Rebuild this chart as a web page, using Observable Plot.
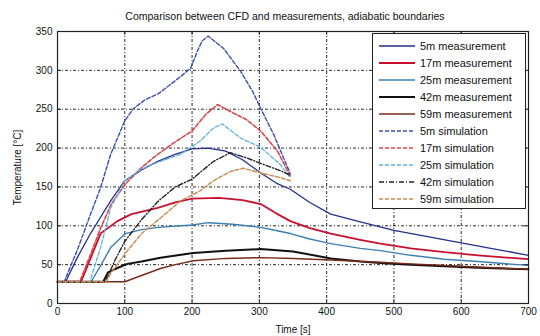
<!DOCTYPE html>
<html><head><meta charset="utf-8">
<script src="https://cdn.jsdelivr.net/npm/d3@7"></script>
<script src="https://cdn.jsdelivr.net/npm/@observablehq/plot@0.6"></script>
<style>
body{margin:0;background:#fff;font-family:"Liberation Sans",Arial,sans-serif;}
#wrap{position:relative;width:540px;height:336px;overflow:hidden;}
#title{position:absolute;left:30px;width:510px;top:10px;font-size:10.5px;text-align:center;color:#111;}
#chart{position:absolute;left:0;top:24px;}
#legend{position:absolute;left:372px;top:33px;width:152px;height:174px;border:1px solid #222;background:#fff;}
.row{position:absolute;left:0;height:14px;font-size:11px;color:#111;white-space:nowrap;}
.row svg{position:absolute;left:5px;top:0;}
.row span{position:absolute;left:47px;top:0;line-height:14px;}
</style></head><body>
<div id="wrap">
<div id="title"></div>
<div id="chart"></div>
<div id="legend"></div>
</div>
<script>
const titleText = "Comparison between CFD and measurements, adiabatic boundaries";
const xLabel = "Time [s]";
const yLabel = "Temperature [°C]";
const xTicks = [0,100,200,300,400,500,600,700];
const yTicks = [0,50,100,150,200,250,300,350];

const seriesNames = ["5m measurement","17m measurement","25m measurement","42m measurement","59m measurement",
  "5m simulation","17m simulation","25m simulation","42m simulation","59m simulation"];

const t5mMeas = [0,12,30,49,64,79,100,125,149,175,200,224,250,275,302,325,346,375,406,450,500,550,600,650,700];
const v5mMeas = [28,28,60,90,111,132,158,172,183,192,199,200,196,185,168,155,147,130,115,105,94,86,78,70,62];
const t17mMeas = [0,35,50,64,89,110,149,175,200,240,275,302,325,346,375,406,450,480,525,575,625,700];
const v17mMeas = [28,28,60,90,106,115,123,130,135,136,133,128,116,106,97,90,82,77,71,66,62,57];
const t25mMeas = [0,50,65,79,101,125,149,200,224,260,302,325,346,375,406,450,480,525,575,625,700];
const v25mMeas = [28,28,50,72,90,95,98,101,104,102,98,94,90,83,77,71,68,62,57,54,49];
const t42mMeas = [0,68,75,90,104,125,153,202,250,302,350,406,450,480,525,575,625,700];
const v42mMeas = [28,28,40,46,51,54,59,65,68,70,67,58,54,52,50,48,46,44];
const t59mMeas = [0,100,125,153,175,202,250,302,350,406,480,525,600,700];
const v59mMeas = [28,28,36,45,50,55,58,59,58,56,53,51,48,44];

const t5mSim = [0,10,30,50,64,79,100,113,130,150,183,198,208,215,224,247,272,290,302,321,346];
const v5mSim = [28,28,70,117,149,192,235,251,262,270,292,303,325,338,344,328,299,273,251,218,167];
const t17mSim = [0,33,50,64,80,101,125,149,175,200,220,238,257,280,302,327,346];
const v17mSim = [28,28,65,97,128,154,175,192,208,222,243,256,247,237,222,196,164];
const t25mSim = [0,48,65,79,100,125,150,183,212,232,245,272,302,331,346];
const v25mSim = [28,28,75,123,158,173,182,192,209,226,231,213,201,179,162];
const t42mSim = [0,70,75,85,100,125,150,175,200,232,257,282,306,331,346];
const v42mSim = [28,28,35,55,80,108,132,150,160,183,194,187,179,171,165];
const t59mSim = [0,72,80,104,125,153,183,212,232,257,276,302,331,346];
const v59mSim = [28,28,40,68,90,110,132,145,158,170,174,168,162,158];

const seriesT = [t5mMeas,t17mMeas,t25mMeas,t42mMeas,t59mMeas,t5mSim,t17mSim,t25mSim,t42mSim,t59mSim];
const seriesV = [v5mMeas,v17mMeas,v25mMeas,v42mMeas,v59mMeas,v5mSim,v17mSim,v25mSim,v42mSim,v59mSim];

const styles = [
  {stroke:"#24308a", w:1.3, dash:null},
  {stroke:"#c8102e", w:1.8, dash:null},
  {stroke:"#3b7fb5", w:1.4, dash:null},
  {stroke:"#111111", w:2.0, dash:null},
  {stroke:"#7a2a1a", w:1.4, dash:null},
  {stroke:"#3c4fb0", w:1.4, dash:"4,2"},
  {stroke:"#d4474a", w:1.6, dash:"4,2"},
  {stroke:"#5fb4dc", w:1.3, dash:"4,2"},
  {stroke:"#222222", w:1.4, dash:"5,2,1,2"},
  {stroke:"#c98a4e", w:1.4, dash:"4,2"}
];

const tables = seriesNames.map((name,i)=> seriesT[i].map((t,j)=>({series:name, t, v:seriesV[i][j]})));

document.getElementById("title").textContent = titleText;

const lineMarks = tables.map((tab,i)=> Plot.line(tab, {x:"t", y:"v", stroke:styles[i].stroke, strokeWidth:styles[i].w, strokeDasharray:styles[i].dash || undefined}));

const chart = Plot.plot({
  width: 540, height: 312,
  marginTop: 7, marginBottom: 33, marginLeft: 57, marginRight: 12,
  style: {fontFamily:'"Liberation Sans",Arial,sans-serif', fontSize:"10px", color:"#111", background:"transparent"},
  x: {domain:[0,700]},
  y: {domain:[0,350]},
  marks: [
    Plot.gridX(xTicks.slice(1,-1), {stroke:"#000", strokeOpacity:0.85, strokeDasharray:"3,2,1,2"}),
    Plot.gridY(yTicks.slice(1,-1), {stroke:"#000", strokeOpacity:0.85, strokeDasharray:"3,2,1,2"}),
    ...lineMarks,
    Plot.frame({stroke:"#222", strokeWidth:1.2}),
    Plot.ruleX(xTicks, {x:d=>d, y1:0, y2:5, stroke:"#222"}),
    Plot.ruleX(xTicks, {x:d=>d, y1:345, y2:350, stroke:"#222"}),
    Plot.ruleY(yTicks, {y:d=>d, x1:0, x2:6, stroke:"#222"}),
    Plot.ruleY(yTicks, {y:d=>d, x1:694, x2:700, stroke:"#222"}),
    Plot.axisX(xTicks, {tickSize:0, tickPadding:4, label:xLabel, labelAnchor:"center", labelOffset:29, labelArrow:false}),
    Plot.axisY(yTicks, {tickSize:0, tickPadding:5, label:yLabel, labelAnchor:"center", labelOffset:44, labelArrow:false})
  ]
});
document.getElementById("chart").appendChild(chart);

// legend
const legend = document.getElementById("legend");
seriesNames.forEach((name,i)=>{
  const row = document.createElement("div");
  row.className = "row";
  row.style.top = (5 + 17*i) + "px";
  row.style.width = "150px";
  const s = styles[i];
  row.innerHTML = `<svg width="38" height="14"><line x1="1" x2="37" y1="7" y2="7" stroke="${s.stroke}" stroke-width="${s.w}" ${s.dash?`stroke-dasharray="${s.dash}"`:""}/></svg><span>${name}</span>`;
  legend.appendChild(row);
});
</script>
</body></html>
